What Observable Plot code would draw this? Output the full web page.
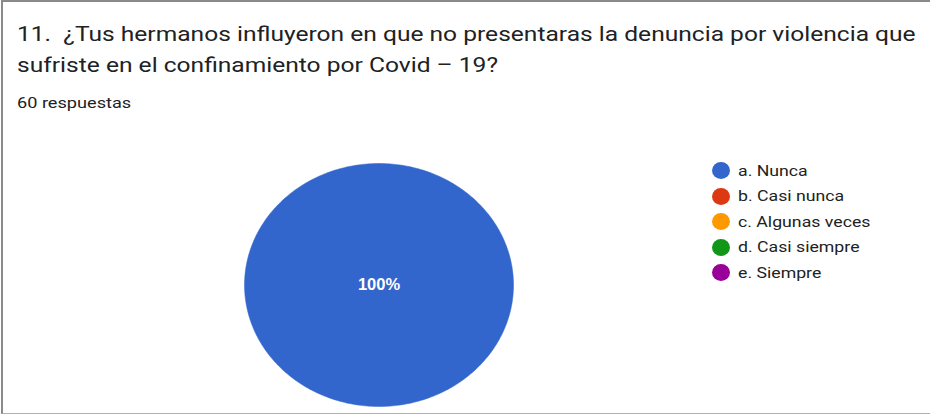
<!DOCTYPE html>
<html>
<head>
<meta charset="utf-8">
<script src="https://cdn.jsdelivr.net/npm/d3@7"></script>
<script src="https://cdn.jsdelivr.net/npm/@observablehq/plot@0.6"></script>
<style>
  html, body { margin: 0; padding: 0; background: #fff; }
  #wrap { position: relative; width: 930px; height: 414px; overflow: hidden; background: #fff; font-family: Roboto, "Noto Sans", sans-serif; }
  #frame { position: absolute; left: 1px; top: 0; width: 940px; height: 414px; border-top: 2px solid #8a8a8a; border-left: 2px solid #8a8a8a; border-bottom: 1px solid #b0b0b0; box-sizing: border-box; pointer-events: none; }
  #title { position: absolute; left: 17px; top: 19px; font-size: 21px; line-height: 31px; color: #202124; white-space: pre; transform: scaleX(1.17); transform-origin: 0 0; }
  #sub { position: absolute; left: 17px; top: 94px; font-size: 15.5px; color: #202124; white-space: pre; transform: scaleX(1.17); transform-origin: 0 0; }
  #chart { position: absolute; left: 0; top: 0; }
  #legend { position: absolute; left: 712px; top: 158px; }
  .item { display: flex; align-items: center; height: 25.5px; font-size: 15px; color: #222; }
  .sw { width: 18px; height: 17px; border-radius: 50%; margin-right: 8px; flex: none; }
  .lt { display: inline-block; transform: scaleX(1.18); transform-origin: 0 50%; white-space: pre; }
</style>
</head>
<body>
<div id="wrap">
  <div id="chart"></div>
  <div id="title"></div>
  <div id="sub"></div>
  <div id="legend"></div>
  <div id="frame"></div>
</div>
<script>
const titleLines = ["11.  ¿Tus hermanos influyeron en que no presentaras la denuncia por violencia que", "sufriste en el confinamiento por Covid – 19?"];
const subtitle = "60 respuestas";
const categories = ["a. Nunca", "b. Casi nunca", "c. Algunas veces", "d. Casi siempre", "e. Siempre"];
const counts = [60, 0, 0, 0, 0];
const colors = ["#3366cc", "#dc3912", "#ff9900", "#109618", "#990099"];

document.getElementById("title").textContent = titleLines.join("\n");
document.getElementById("sub").textContent = subtitle;

const total = d3.sum(counts);
const data = categories.map((c, i) => ({category: c, value: counts[i]}));
const arcs = d3.pie().value(d => d.value).sort(null)(data).filter(a => a.value > 0);

// outline points of each slice on the unit circle (angle 0 at 12 o'clock, clockwise)
const pts = [];
for (const a of arcs) {
  const full = (a.endAngle - a.startAngle) >= 2 * Math.PI - 1e-9;
  const n = Math.max(2, Math.ceil((a.endAngle - a.startAngle) / (Math.PI / 180)));
  if (!full) pts.push({category: a.data.category, x: 0, y: 0});
  for (let k = 0; k <= n; k++) {
    const t = a.startAngle + (a.endAngle - a.startAngle) * k / n;
    pts.push({category: a.data.category, x: Math.sin(t), y: Math.cos(t)});
  }
}
const labels = arcs.map(a => {
  const frac = a.value / total;
  const mid = (a.startAngle + a.endAngle) / 2;
  const r = frac >= 1 - 1e-9 ? 0 : 0.65;
  return {x: r * Math.sin(mid), y: r * Math.cos(mid), text: d3.format(".0%")(frac)};
});

const chart = Plot.plot({
  width: 930,
  height: 414,
  margin: 0,
  x: {domain: [-1, 1], range: [244, 513], axis: null},
  y: {domain: [-1, 1], range: [406, 163], axis: null},
  color: {domain: categories, range: colors},
  style: {background: "transparent"},
  marks: [
    Plot.line(pts, {x: "x", y: "y", z: "category", fill: "category", stroke: "category", strokeWidth: 0.5, curve: "linear"}),
    Plot.text(labels, {x: "x", y: "y", text: "text", fill: "white", fontSize: 16.5, fontWeight: "bold", fontFamily: "Arial, 'Liberation Sans', sans-serif"})
  ]
});
document.getElementById("chart").appendChild(chart);

const leg = document.getElementById("legend");
categories.forEach((c, i) => {
  const row = document.createElement("div");
  row.className = "item";
  const sw = document.createElement("span");
  sw.className = "sw";
  sw.style.background = colors[i];
  const tx = document.createElement("span");
  tx.className = "lt";
  tx.textContent = c;
  row.appendChild(sw); row.appendChild(tx);
  leg.appendChild(row);
});
</script>
</body>
</html>
